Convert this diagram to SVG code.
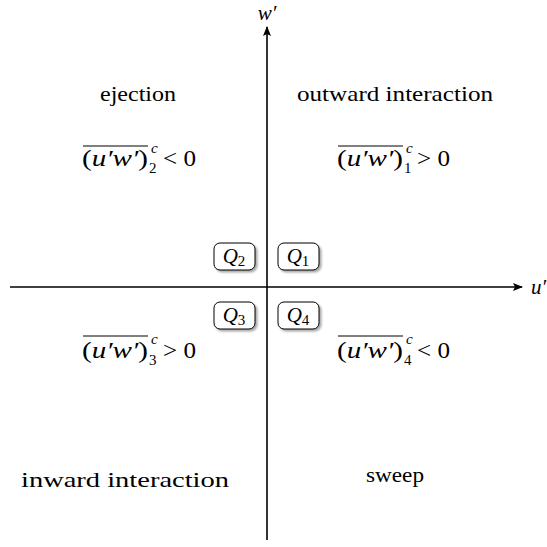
<svg xmlns="http://www.w3.org/2000/svg" width="547" height="547" viewBox="0 0 547 547">
<defs>
<marker id="arr" viewBox="0 0 10 8" refX="9" refY="4" markerWidth="10" markerHeight="8" markerUnits="userSpaceOnUse" orient="auto">
<path d="M0,0 L10,4 L0,8 L2,4 Z" fill="#000"/>
</marker>
<filter id="sh" x="-20%" y="-20%" width="150%" height="150%">
<feGaussianBlur in="SourceAlpha" stdDeviation="1.2"/>
<feOffset dx="2" dy="2"/>
<feComponentTransfer><feFuncA type="linear" slope="0.35"/></feComponentTransfer>
<feMerge><feMergeNode/><feMergeNode in="SourceGraphic"/></feMerge>
</filter>
</defs>
<style>
.lbl{font-family:"Liberation Serif","DejaVu Serif",serif;font-size:21px;fill:#000}
.f{font-size:23px}
.it{font-style:italic}
.sm{font-size:15px}
.box{fill:#fff;stroke:#000;stroke-width:1;filter:url(#sh)}
.ol{stroke:#000;stroke-width:1}
</style>
<rect width="547" height="547" fill="#fff"/>
<g id="axes">
<line x1="10" y1="287" x2="522" y2="287" stroke="#000" stroke-width="1.6" marker-end="url(#arr)"/>
<line x1="267" y1="540" x2="267" y2="27" stroke="#000" stroke-width="1.6" marker-end="url(#arr)"/>
<text class="lbl it" x="267" y="20" text-anchor="middle">w′</text>
<text class="lbl it" x="531" y="294">u′</text>
</g>
<g id="Q2"><rect class="box" x="214" y="243" width="41" height="27" rx="6"/><text class="lbl" x="234" y="263" text-anchor="middle"><tspan class="it">Q</tspan><tspan class="sm" dy="3">2</tspan></text></g>
<g id="Q1"><rect class="box" x="278" y="243" width="41" height="27" rx="6"/><text class="lbl" x="298" y="263" text-anchor="middle"><tspan class="it">Q</tspan><tspan class="sm" dy="3">1</tspan></text></g>
<g id="Q3"><rect class="box" x="214" y="302" width="41" height="27" rx="6"/><text class="lbl" x="234" y="322" text-anchor="middle"><tspan class="it">Q</tspan><tspan class="sm" dy="3">3</tspan></text></g>
<g id="Q4"><rect class="box" x="278" y="302" width="41" height="27" rx="6"/><text class="lbl" x="298" y="322" text-anchor="middle"><tspan class="it">Q</tspan><tspan class="sm" dy="3">4</tspan></text></g>
<g id="ejection">
<text class="lbl" x="100" y="101" textLength="76" lengthAdjust="spacingAndGlyphs">ejection</text>
<line class="ol" x1="83" y1="146" x2="148" y2="146"/>
<text class="lbl f" x="82" y="166" textLength="66" lengthAdjust="spacingAndGlyphs">(<tspan class="it">u′w′</tspan>)</text>
<text class="lbl it sm" x="151" y="153">c</text>
<text class="lbl sm" x="149" y="173">2</text>
<text class="lbl f" x="163" y="166" textLength="33" lengthAdjust="spacingAndGlyphs">&lt; 0</text>
</g>
<g id="outward">
<text class="lbl" x="297" y="101" textLength="196" lengthAdjust="spacingAndGlyphs">outward interaction</text>
<line class="ol" x1="338" y1="146" x2="403" y2="146"/>
<text class="lbl f" x="337" y="166" textLength="66" lengthAdjust="spacingAndGlyphs">(<tspan class="it">u′w′</tspan>)</text>
<text class="lbl it sm" x="406" y="153">c</text>
<text class="lbl sm" x="404" y="173">1</text>
<text class="lbl f" x="417" y="166" textLength="33" lengthAdjust="spacingAndGlyphs">&gt; 0</text>
</g>
<g id="inward">
<line class="ol" x1="83" y1="336" x2="148" y2="336"/>
<text class="lbl f" x="82" y="358" textLength="66" lengthAdjust="spacingAndGlyphs">(<tspan class="it">u′w′</tspan>)</text>
<text class="lbl it sm" x="151" y="344">c</text>
<text class="lbl sm" x="149" y="365">3</text>
<text class="lbl f" x="163" y="358" textLength="33" lengthAdjust="spacingAndGlyphs">&gt; 0</text>
<text class="lbl" x="21" y="487" textLength="208" lengthAdjust="spacingAndGlyphs">inward interaction</text>
</g>
<g id="sweep">
<line class="ol" x1="338" y1="336" x2="403" y2="336"/>
<text class="lbl f" x="337" y="358" textLength="66" lengthAdjust="spacingAndGlyphs">(<tspan class="it">u′w′</tspan>)</text>
<text class="lbl it sm" x="406" y="344">c</text>
<text class="lbl sm" x="404" y="365">4</text>
<text class="lbl f" x="417" y="358" textLength="33" lengthAdjust="spacingAndGlyphs">&lt; 0</text>
<text class="lbl" x="366" y="482" textLength="58" lengthAdjust="spacingAndGlyphs">sweep</text>
</g>
</svg>
